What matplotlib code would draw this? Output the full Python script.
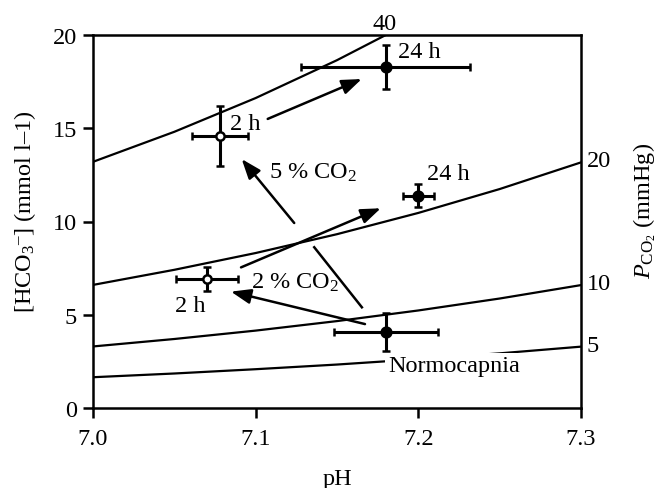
import matplotlib
matplotlib.use("Agg")
import matplotlib.pyplot as plt

plt.rcParams['font.family'] = ['Liberation Serif', 'DejaVu Serif']
plt.rcParams['mathtext.fontset'] = 'custom'
plt.rcParams['mathtext.rm'] = 'Liberation Serif'
plt.rcParams['mathtext.it'] = 'Liberation Serif:italic'
plt.rcParams['font.size'] = 17.5

# PCO2 isopleths
ph_grid = [7.0, 7.05, 7.1, 7.15, 7.2, 7.25, 7.3]
hco3_pco2_5 = [1.65, 1.85, 2.08, 2.33, 2.62, 2.93, 3.29]
hco3_pco2_10 = [3.3, 3.70, 4.15, 4.66, 5.23, 5.87, 6.59]
hco3_pco2_20 = [6.6, 7.41, 8.31, 9.32, 10.46, 11.74, 13.17]
ph_40 = [7.0, 7.05, 7.1, 7.15, 7.18]
hco3_pco2_40 = [13.2, 14.81, 16.62, 18.65, 20.0]

# group means: normocapnia, 2% 2h, 2% 24h, 5% 2h, 5% 24h
ph_mean = [7.18, 7.07, 7.20, 7.078, 7.18]
ph_sem = [0.032, 0.019, 0.0095, 0.017, 0.052]
hco3_mean = [4.07, 6.92, 11.38, 14.57, 18.27]
hco3_sem = [1.0, 0.63, 0.62, 1.6, 1.18]
is_open = [False, True, False, True, False]

fig = plt.figure(figsize=(6.66, 4.89), dpi=100)
ax = fig.add_axes([93/666, 1-409/489, 488/666, 373/489])

for ph, hc in [(ph_grid, hco3_pco2_5), (ph_grid, hco3_pco2_10),
               (ph_grid, hco3_pco2_20), (ph_40, hco3_pco2_40)]:
    ax.plot(ph, hc, color='k', lw=1.6, zorder=1)

ax.annotate('40', xy=(ph_40[-1], hco3_pco2_40[-1]), xytext=(-1, 1),
            textcoords='offset points', ha='center', va='bottom',
            annotation_clip=False)
for lab, hc in [('20', hco3_pco2_20), ('10', hco3_pco2_10), ('5', hco3_pco2_5)]:
    ax.annotate(lab, xy=(ph_grid[-1], hc[-1]), xytext=(4, 1),
                textcoords='offset points', ha='left', va='center',
                annotation_clip=False)

for i in range(len(ph_mean)):
    ax.errorbar(ph_mean[i], hco3_mean[i], xerr=ph_sem[i], yerr=hco3_sem[i],
                fmt='o', color='k', ms=7 if not is_open[i] else 6,
                mfc='white' if is_open[i] else 'k', mec='k', mew=1.8,
                elinewidth=2.2, capsize=2.8, capthick=2.2, zorder=4)

arrow = dict(arrowstyle='-|>,head_length=0.8,head_width=0.3', lw=1.8,
             color='k', shrinkA=0, shrinkB=0, mutation_scale=15)
ax.annotate('', xy=(7.0848, 6.24), xytext=(7.1672, 4.50), arrowprops=arrow)
ax.annotate('', xy=(7.1769, 10.71), xytext=(7.091, 7.54), arrowprops=arrow)
ax.annotate('', xy=(7.1652, 17.64), xytext=(7.1074, 15.50), arrowprops=arrow)
ax.plot([7.1653, 7.1360], [5.40, 8.62], color='k', lw=1.8)
ax.annotate('', xy=(7.0914, 13.35), xytext=(7.1237, 9.92), arrowprops=arrow)

ax.text(7.1875, 19.09, '24 h', va='center')
ax.text(7.0842, 15.23, '2 h', va='center')
ax.text(7.1083, 12.64, '5 % CO$_2$', va='center')
ax.text(7.2051, 12.55, '24 h', va='center')
ax.text(7.0969, 6.74, '2 % CO$_2$', va='center')
ax.text(7.0504, 5.49, '2 h', va='center')
ax.text(7.1813, 2.27, 'Normocapnia', va='center', zorder=3,
        bbox=dict(boxstyle='square,pad=0.1', fc='white', ec='none'))

ax.set_xlim(7.0, 7.3)
ax.set_ylim(0, 20)
ax.set_xticks([7.0, 7.1, 7.2, 7.3])
ax.set_xticklabels(['7.0', '7.1', '7.2', '7.3'])
ax.set_yticks([0, 5, 10, 15, 20])
for s in ax.spines.values():
    s.set_linewidth(1.8)
ax.tick_params(axis='both', direction='out', length=7.5, width=1.8)
ax.tick_params(axis='x', pad=7)
ax.tick_params(axis='y', pad=4)
ax.set_xlabel('pH')
ax.xaxis.set_label_coords(0.5, -0.16)
ax.set_ylabel('[HCO$_3$$^{–}$] (mmol l–1)')
ax.yaxis.set_label_coords(-0.112, 0.53)
ax.text(1.131, 0.53, r'$P_{\mathrm{CO}_2}$ (mmHg)', transform=ax.transAxes,
        rotation=90, ha='center', va='center')

fig.savefig('out.png', dpi=100)
